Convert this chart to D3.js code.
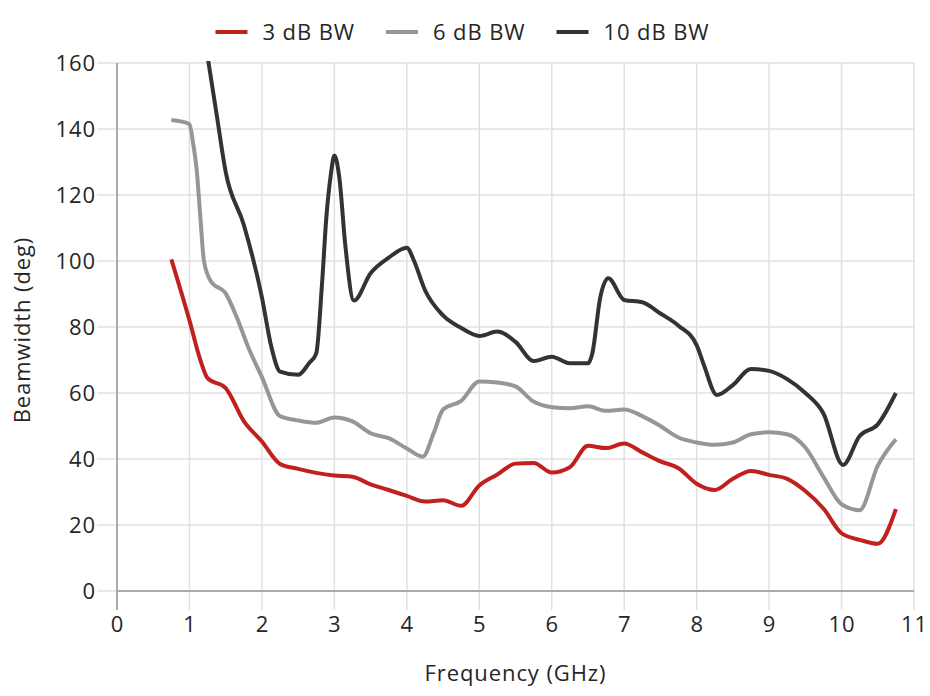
<!DOCTYPE html>
<html>
<head>
<meta charset="utf-8">
<script src="https://cdn.jsdelivr.net/npm/d3@7"></script>
<style>
  html, body { margin: 0; padding: 0; background: #fff; }
  svg { display: block; }
  text { font-family: "Open Sans", "Noto Sans", sans-serif; font-weight: 400; fill: #262626; letter-spacing: 0.9px; }
</style>
</head>
<body>
<svg id="chart" width="930" height="696"></svg>
<script>
// ---- data ----
const seriesNames = ["3 dB BW", "6 dB BW", "10 dB BW"];
const seriesColors = ["#c0211d", "#969696", "#333333"];

const bw3x = [0.75, 1.0, 1.15, 1.25, 1.5, 1.75, 2.0, 2.25, 2.5, 2.75, 3.0, 3.25, 3.5, 3.75, 4.0, 4.25, 4.5, 4.75, 5.0, 5.25, 5.5, 5.75, 6.0, 6.25, 6.5, 6.75, 7.0, 7.25, 7.5, 7.75, 8.0, 8.25, 8.5, 8.75, 9.0, 9.25, 9.5, 9.75, 10.0, 10.25, 10.5, 10.75];
const bw3y = [100.5, 82, 70, 64.5, 61.5, 51.5, 45.3, 38.5, 37, 35.8, 35, 34.6, 32.3, 30.6, 28.8, 27.1, 27.5, 25.8, 32, 35.3, 38.6, 38.8, 35.9, 37.5, 44, 43.3, 44.7, 42, 39.3, 37.2, 32.5, 30.6, 34, 36.4, 35.2, 34, 30.3, 25, 17.5, 15.5, 14.3, 24.8];

const bw6x = [0.75, 1.0, 1.05, 1.1, 1.15, 1.2, 1.3, 1.5, 1.65, 1.8, 2.0, 2.25, 2.5, 2.75, 3.0, 3.25, 3.5, 3.75, 4.0, 4.22, 4.37, 4.5, 4.75, 5.0, 5.25, 5.5, 5.75, 6.0, 6.25, 6.5, 6.75, 7.0, 7.25, 7.5, 7.75, 8.0, 8.25, 8.5, 8.75, 9.0, 9.25, 9.5, 9.75, 10.0, 10.25, 10.5, 10.75];
const bw6y = [142.7, 141.5, 135.7, 127.6, 113.4, 100, 93.7, 90.2, 83.1, 74.5, 64.8, 53, 51.7, 51, 52.6, 51.4, 47.8, 46.3, 43.2, 40.7, 47.8, 55, 57.6, 63.5, 63.2, 62, 57.4, 55.7, 55.4, 56, 54.6, 55, 53, 50, 46.5, 45, 44.3, 45, 47.5, 48.1, 47.5, 43.5, 34.6, 26.3, 24.5, 38, 46];

const bw10x = [0.75, 1.0, 1.25, 1.38, 1.5, 1.75, 2.0, 2.13, 2.25, 2.5, 2.65, 2.75, 2.83, 2.89, 2.95, 3.0, 3.07, 3.15, 3.27, 3.5, 3.75, 4.0, 4.1, 4.25, 4.5, 4.75, 5.0, 5.25, 5.5, 5.75, 6.0, 6.25, 6.5, 6.56, 6.67, 6.78, 7.0, 7.25, 7.5, 7.75, 8.0, 8.1, 8.28, 8.5, 8.75, 9.0, 9.25, 9.5, 9.75, 10.02, 10.25, 10.5, 10.75];
const bw10y = [235, 195, 162, 143.7, 127, 111, 89, 74, 66.5, 65.5, 69, 72, 93.2, 113.4, 126, 132, 125, 105, 88, 96.3, 101, 104, 100, 91.2, 83.5, 79.7, 77.3, 78.6, 75.5, 69.7, 71, 69, 69, 72, 89, 94.8, 88.2, 87.5, 84.1, 80.4, 74.5, 68.5, 59.4, 62.4, 67.3, 66.7, 64.2, 60, 53.8, 38.2, 47, 50.5, 60];

const xTicks = [0, 1, 2, 3, 4, 5, 6, 7, 8, 9, 10, 11];
const yTicks = [0, 20, 40, 60, 80, 100, 120, 140, 160];
const xTitle = "Frequency (GHz)";
const yTitle = "Beamwidth (deg)";

// ---- layout ----
const W = 930, H = 696;
const m = { left: 117, right: 16, top: 63, bottom: 105 };
const svg = d3.select("#chart");
const x = d3.scaleLinear().domain([0, 11]).range([m.left, W - m.right]);
const y = d3.scaleLinear().domain([0, 160]).range([H - m.bottom, m.top]);

const gridColor = "#e0e0e0", axisColor = "#ababab";
const fs = 22;

// horizontal grid + left ticks
svg.append("g").selectAll("line").data(yTicks).join("line")
  .attr("x1", m.left - 20).attr("x2", W - m.right)
  .attr("y1", d => y(d)).attr("y2", d => y(d))
  .attr("stroke", gridColor).attr("stroke-width", 1.5);
// vertical grid + bottom ticks
svg.append("g").selectAll("line").data(xTicks).join("line")
  .attr("x1", d => x(d)).attr("x2", d => x(d))
  .attr("y1", m.top).attr("y2", y(0) + 19)
  .attr("stroke", d => d === 0 ? axisColor : gridColor)
  .attr("stroke-width", d => d === 0 ? 2 : 1.5);

// axes lines
svg.append("line").attr("x1", x(0)).attr("x2", x(0)).attr("y1", m.top).attr("y2", y(0) + 19)
  .attr("stroke", axisColor).attr("stroke-width", 2);
svg.append("line").attr("x1", x(0)).attr("x2", x(11)).attr("y1", y(0)).attr("y2", y(0))
  .attr("stroke", axisColor).attr("stroke-width", 2);

// tick labels
svg.append("g").selectAll("text").data(yTicks).join("text")
  .attr("x", m.left - 21).attr("y", d => y(d)).attr("dy", "0.35em")
  .attr("text-anchor", "end").attr("font-size", fs).text(d => d);
svg.append("g").selectAll("text").data(xTicks).join("text")
  .attr("x", d => x(d) + 0.5).attr("y", 632)
  .attr("text-anchor", "middle").attr("font-size", fs).text(d => d);

// axis titles
svg.append("text").attr("x", x(5.5)).attr("y", 681).attr("text-anchor", "middle")
  .attr("font-size", fs).text(xTitle);
svg.append("text").attr("transform", `translate(30,${(m.top + y(0)) / 2 + 3}) rotate(-90)`)
  .attr("text-anchor", "middle").attr("font-size", fs).text(yTitle);

// clip
svg.append("clipPath").attr("id", "plotclip").append("rect")
  .attr("x", m.left).attr("y", m.top - 2).attr("width", W - m.right - m.left).attr("height", y(0) - m.top + 2);

const seriesData = [
  bw3x.map((v, i) => [v, bw3y[i]]),
  bw6x.map((v, i) => [v, bw6y[i]]),
  bw10x.map((v, i) => [v, bw10y[i]])
];
const line = d3.line().x(d => x(d[0])).y(d => y(d[1])).curve(d3.curveMonotoneX);
const gLines = svg.append("g").attr("clip-path", "url(#plotclip)");
seriesData.forEach((s, i) => {
  gLines.append("path").attr("d", line(s)).attr("fill", "none")
    .attr("stroke", seriesColors[i]).attr("stroke-width", 4)
    .attr("stroke-linejoin", "round");
});

// legend
const leg = svg.append("g");
let cx = 0;
seriesNames.forEach((n, i) => {
  const g = leg.append("g").attr("transform", `translate(${cx},0)`);
  g.append("line").attr("x1", 0).attr("x2", 32).attr("y1", 32).attr("y2", 32)
    .attr("stroke", seriesColors[i]).attr("stroke-width", 4);
  const t = g.append("text").attr("x", 47).attr("y", 32).attr("dy", "0.35em")
    .attr("font-size", fs).text(n);
  const w = t.node().getComputedTextLength();
  cx += 47 + w + 31;
});
const total = cx - 31;
leg.attr("transform", `translate(${462.5 - total / 2},0)`);
</script>
</body>
</html>
